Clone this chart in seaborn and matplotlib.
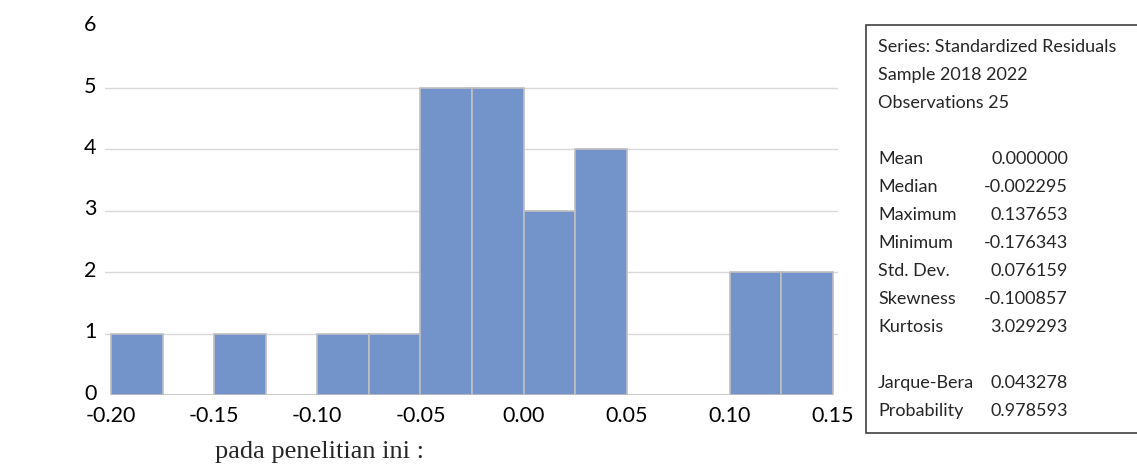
import numpy as np
import seaborn as sns
import matplotlib.pyplot as plt
import matplotlib.transforms as mtransforms
from matplotlib.patches import Rectangle

sns.set_style('white')
plt.rcParams['font.family'] = ['Lato', 'DejaVu Sans']

# histogram of standardized residuals (bin edges and counts)
bin_edges = [-0.200, -0.175, -0.150, -0.125, -0.100, -0.075, -0.050,
             -0.025, 0.000, 0.025, 0.050, 0.075, 0.100, 0.125, 0.150]
counts = [1, 0, 1, 0, 1, 1, 5, 5, 3, 4, 0, 0, 2, 2]

x_ticks = [-0.20, -0.15, -0.10, -0.05, 0.00, 0.05, 0.10, 0.15]
y_ticks = [0, 1, 2, 3, 4, 5, 6]

stat_header = ['Series: Standardized Residuals', 'Sample 2018 2022', 'Observations 25']
stat_names = ['Mean', 'Median', 'Maximum', 'Minimum', 'Std. Dev.', 'Skewness', 'Kurtosis']
stat_values = ['0.000000', '-0.002295', '0.137653', '-0.176343', '0.076159', '-0.100857', '3.029293']
test_names = ['Jarque-Bera', 'Probability']
test_values = ['0.043278', '0.978593']

fig = plt.figure(figsize=(11.37, 4.68), dpi=100)
ax = fig.add_axes([105 / 1137, 1 - 395 / 468, 733 / 1137, 368.4 / 468])

# only non-empty bins get a bar
left = [bin_edges[i] for i in range(len(counts)) if counts[i] > 0]
w = [counts[i] for i in range(len(counts)) if counts[i] > 0]
sns.histplot(x=left, weights=w, bins=bin_edges, ax=ax, color='#7393CB',
             alpha=1, edgecolor='#BFBFBF', linewidth=1.2, zorder=3)

ax.set_xlim(-0.2029, 0.1524)
ax.set_ylim(0, 6)
ax.set_xticks(x_ticks)
ax.set_xticklabels([f'{t:.2f}' for t in x_ticks])
ax.set_yticks(y_ticks)
ax.set_xlabel('')
ax.set_ylabel('')
ax.tick_params(axis='both', length=0, labelsize=15.5, colors='black')
ax.tick_params(axis='y', pad=6)
ax.tick_params(axis='x', pad=8)
ax.grid(axis='y', color='#D9D9D9', linewidth=1, zorder=0)
ax.yaxis.get_gridlines()[0].set_visible(False)
ax.yaxis.get_gridlines()[-1].set_visible(False)
for s in ax.spines.values():
    s.set_visible(False)

# y labels sit a little above their gridlines, like the original
shift = mtransforms.ScaledTranslation(0, 2.5 / 72, fig.dpi_scale_trans)
for lab in ax.get_yticklabels():
    lab.set_transform(lab.get_transform() + shift)

# stats box on the right
fig.patches.append(Rectangle((866 / 1137, 1 - 433 / 468), 0.3, 408 / 468,
                             transform=fig.transFigure, facecolor='white',
                             edgecolor='#404040', linewidth=1.2))
fs = 13
ys = [47, 75, 103]
for txt, y in zip(stat_header, ys):
    fig.text(878 / 1137, 1 - y / 468, txt, fontsize=fs, va='center', ha='left')
for i, (n, v) in enumerate(zip(stat_names, stat_values)):
    y = 159 + 28 * i
    fig.text(878 / 1137, 1 - y / 468, n, fontsize=fs, va='center', ha='left')
    fig.text(1068 / 1137, 1 - y / 468, v, fontsize=fs, va='center', ha='right')
for i, (n, v) in enumerate(zip(test_names, test_values)):
    y = 383 + 28 * i
    fig.text(878 / 1137, 1 - y / 468, n, fontsize=fs, va='center', ha='left')
    fig.text(1068 / 1137, 1 - y / 468, v, fontsize=fs, va='center', ha='right')

fig.text(215 / 1137, 1 - 452 / 468, 'pada penelitian ini :', fontsize=19,
         family=['Liberation Serif', 'DejaVu Serif'], va='center', ha='left')

fig.savefig('out.png', dpi=100)
